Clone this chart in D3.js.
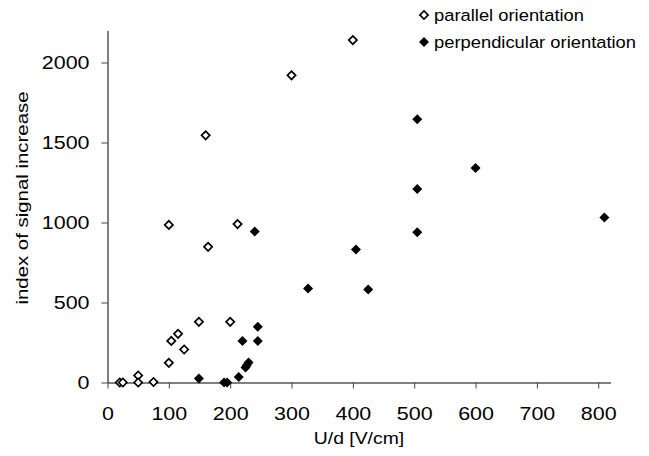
<!DOCTYPE html>
<html>
<head>
<meta charset="utf-8" />
<title>signal increase vs U/d</title>
<script src="https://cdn.jsdelivr.net/npm/d3@7"></script>
<style>
  body { margin: 0; background: #fff; }
  svg text { font-family: "Liberation Sans", Arial, sans-serif; fill: #000; }
</style>
</head>
<body>
<svg id="chart" width="649" height="456"></svg>
<script>
// data (U/d in V/cm, index of signal increase)
const parallelX = [20, 25, 50, 50, 75, 100, 104, 115, 125, 149, 200, 100, 164, 212, 160, 300, 400];
const parallelY = [0, 0, 44, 0, 3, 123, 260, 304, 206, 379, 379, 985, 848, 990, 1545, 1920, 2140];

const perpX = [149, 190, 195, 214, 225, 227, 230, 220, 245, 245, 240, 327, 405, 425, 505, 505, 505, 600, 810];
const perpY = [25, 0, 0, 35, 94, 108, 125, 260, 348, 260, 944, 587, 831, 581, 1646, 1210, 939, 1341, 1031];

const xTicks = [0, 100, 200, 300, 400, 500, 600, 700, 800];
const yTicks = [0, 500, 1000, 1500, 2000];

const seriesNames = ["parallel orientation", "perpendicular orientation"];

const svg = d3.select("#chart");

const x = d3.scaleLinear().domain([0, 820]).range([107.5, 610.5]);
const y = d3.scaleLinear().domain([0, 2200]).range([382.5, 30.5]);

const sx = 1.13; // labels in the picture are drawn a bit wide

// x axis
const gx = svg.append("g")
  .attr("transform", `translate(0,${y(0)})`)
  .call(d3.axisBottom(x).tickValues(xTicks).tickFormat(d3.format("d")).tickSize(6).tickSizeOuter(0));
gx.selectAll("text")
  .attr("y", 24)
  .attr("transform", `scale(${sx},1)`)
  .style("font-size", "19px");

// y axis
const gy = svg.append("g")
  .attr("transform", `translate(${x(0)},0)`)
  .call(d3.axisLeft(y).tickValues(yTicks).tickFormat(d3.format("d")).tickSize(6).tickSizeOuter(0));
gy.selectAll("text")
  .attr("x", -18 / sx)
  .attr("transform", `scale(${sx},1)`)
  .style("font-size", "19px");

svg.selectAll(".domain").attr("stroke", "#000");
svg.selectAll(".tick line").attr("stroke", "#444");

// axis titles
svg.append("text")
  .attr("transform", `translate(359,444) scale(1.14,1)`)
  .attr("text-anchor", "middle")
  .style("font-size", "17px")
  .text("U/d [V/cm]");

svg.append("text")
  .attr("transform", `translate(22,198) rotate(-90) scale(1.2,1)`)
  .attr("text-anchor", "middle")
  .attr("dy", "0.35em")
  .style("font-size", "17px")
  .text("index of signal increase");

// markers
const diamond = d3.symbol(d3.symbolSquare);
const openSize = 34, fullSize = 50;

const pData = parallelX.map((v, i) => ({ x: v, y: parallelY[i] }));
const qData = perpX.map((v, i) => ({ x: v, y: perpY[i] }));

svg.append("g").selectAll("path")
  .data(pData)
  .join("path")
  .attr("d", diamond.size(openSize))
  .attr("transform", d => `translate(${x(d.x)},${y(d.y)}) rotate(45)`)
  .attr("fill", "#fff")
  .attr("stroke", "#000")
  .attr("stroke-width", 1.7);

svg.append("g").selectAll("path")
  .data(qData)
  .join("path")
  .attr("d", diamond.size(fullSize))
  .attr("transform", d => `translate(${x(d.x)},${y(d.y)}) rotate(45)`)
  .attr("fill", "#000");

// legend
const legend = svg.append("g").attr("transform", "translate(424,15)");
seriesNames.forEach((name, i) => {
  const row = legend.append("g").attr("transform", `translate(0,${i * 27})`);
  row.append("path")
    .attr("d", diamond.size(i === 0 ? openSize : fullSize))
    .attr("transform", "rotate(45)")
    .attr("fill", i === 0 ? "#fff" : "#000")
    .attr("stroke", i === 0 ? "#000" : "none")
    .attr("stroke-width", 1.7);
  row.append("text")
    .attr("transform", "translate(10,0) scale(1.08,1)")
    .attr("dy", "0.35em")
    .style("font-size", "17px")
    .text(name);
});
</script>
</body>
</html>
